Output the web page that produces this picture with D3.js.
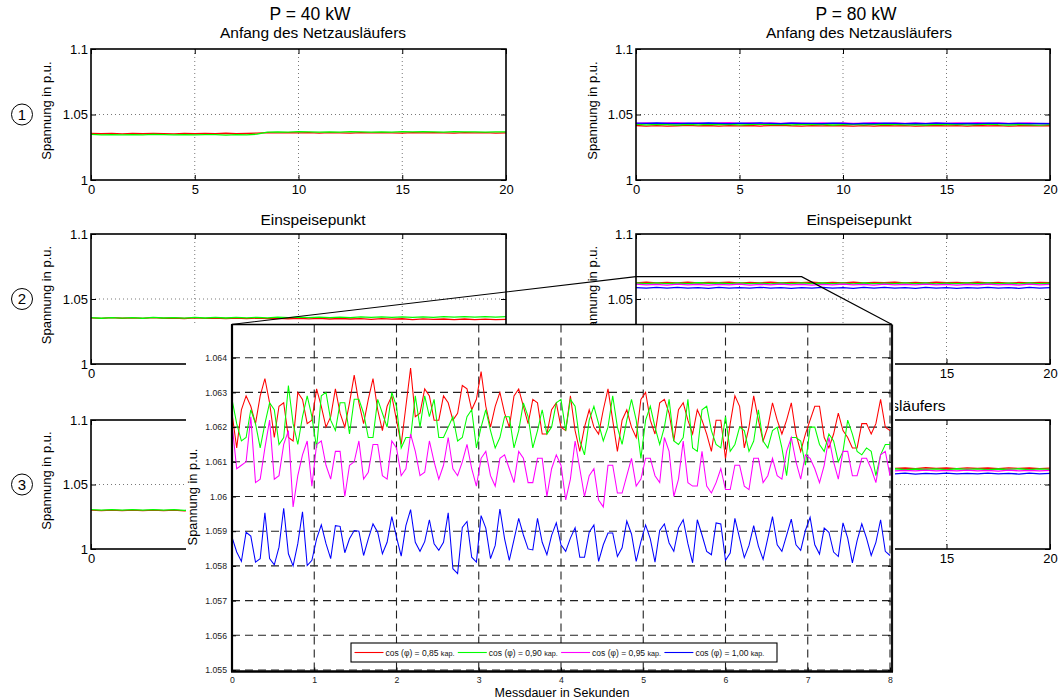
<!DOCTYPE html>
<html>
<head>
<meta charset="utf-8">
<script src="https://cdn.jsdelivr.net/npm/d3@7"></script>
<style>
  body { margin: 0; background: #fff; }
  svg { display: block; }
</style>
</head>
<body>
<svg id="chart" width="1064" height="699"></svg>
<script>
// ---------- overview panels: 20 s of voltage, sampled every 0.5 s ----------
const seriesNames = ["cos (φ) = 0,85 ", "cos (φ) = 0,90 ", "cos (φ) = 0,95 ", "cos (φ) = 1,00 "];
const seriesUnit = "kap.";
const seriesColors = ["#ff0000", "#00ff00", "#ff00ff", "#0000ff"];

const powerTitles = ["P = 40 kW", "P = 80 kW"];
const rowTitles = ["Anfang des Netzausläufers", "Einspeisepunkt", "Ende des Netzausläufers"];
const rowMarks = ["1", "2", "3"];
const bigXTicks = [0, 5, 10, 15, 20];
const bigYTicks = [1, 1.05, 1.1];

// P = 40 kW, Anfang des Netzausläufers
const a40Red = [1.0355,1.0353,1.0356,1.0352,1.0355,1.0353,1.0356,1.0354,1.0352,1.0355,1.0353,1.0356,1.0354,1.0357,1.0353,1.0355,1.0358,1.0361,1.0359,1.0362,1.0359,1.0361,1.0358,1.0362,1.0360,1.0358,1.0361,1.0359,1.0362,1.0360,1.0358,1.0361,1.0359,1.0362,1.0360,1.0358,1.0361,1.0359,1.0361,1.0358,1.0360];
const a40Green = [1.0348,1.0345,1.0347,1.0344,1.0347,1.0345,1.0348,1.0346,1.0344,1.0347,1.0345,1.0347,1.0346,1.0343,1.0346,1.0344,1.0350,1.0366,1.0368,1.0366,1.0369,1.0367,1.0365,1.0368,1.0366,1.0369,1.0367,1.0365,1.0368,1.0366,1.0369,1.0367,1.0370,1.0368,1.0366,1.0369,1.0367,1.0368,1.0366,1.0368,1.0367];

// P = 80 kW, Anfang des Netzausläufers
const a80Red = [1.0416,1.0412,1.0415,1.0411,1.0414,1.0417,1.0413,1.0416,1.0412,1.0415,1.0413,1.0416,1.0412,1.0415,1.0418,1.0414,1.0412,1.0415,1.0413,1.0416,1.0414,1.0411,1.0415,1.0412,1.0416,1.0413,1.0415,1.0412,1.0414,1.0416,1.0413,1.0415,1.0412,1.0416,1.0413,1.0415,1.0412,1.0414,1.0416,1.0413,1.0414];
const a80Green = [1.0424,1.0421,1.0425,1.0422,1.0420,1.0424,1.0421,1.0425,1.0422,1.0424,1.0421,1.0423,1.0426,1.0422,1.0424,1.0421,1.0425,1.0422,1.0424,1.0420,1.0423,1.0425,1.0421,1.0424,1.0422,1.0425,1.0421,1.0423,1.0420,1.0424,1.0422,1.0425,1.0421,1.0423,1.0426,1.0422,1.0420,1.0423,1.0421,1.0419,1.0422];
const a80Magenta = [1.0433,1.0436,1.0432,1.0435,1.0438,1.0433,1.0436,1.0432,1.0435,1.0437,1.0433,1.0436,1.0432,1.0435,1.0433,1.0436,1.0434,1.0432,1.0435,1.0433,1.0436,1.0432,1.0434,1.0437,1.0433,1.0435,1.0432,1.0436,1.0433,1.0435,1.0432,1.0436,1.0434,1.0437,1.0433,1.0435,1.0432,1.0434,1.0436,1.0431,1.0433];
const a80Blue = [1.0434,1.0432,1.0435,1.0433,1.0431,1.0434,1.0432,1.0435,1.0433,1.0430,1.0434,1.0432,1.0435,1.0433,1.0431,1.0434,1.0432,1.0433,1.0431,1.0434,1.0432,1.0429,1.0433,1.0431,1.0434,1.0432,1.0430,1.0433,1.0431,1.0434,1.0432,1.0430,1.0433,1.0431,1.0434,1.0432,1.0430,1.0433,1.0431,1.0432,1.0431];

// P = 40 kW, Einspeisepunkt
const e40Red = [1.0355,1.0351,1.0356,1.0352,1.0355,1.0351,1.0356,1.0352,1.0354,1.0350,1.0355,1.0351,1.0354,1.0350,1.0354,1.0349,1.0353,1.0349,1.0352,1.0348,1.0352,1.0347,1.0351,1.0346,1.0350,1.0346,1.0349,1.0344,1.0349,1.0345,1.0348,1.0342,1.0347,1.0343,1.0346,1.0341,1.0346,1.0342,1.0345,1.0341,1.0343];
const e40Green = [1.0356,1.0352,1.0357,1.0353,1.0357,1.0352,1.0358,1.0354,1.0357,1.0353,1.0358,1.0354,1.0359,1.0354,1.0358,1.0355,1.0359,1.0355,1.0360,1.0356,1.0360,1.0356,1.0361,1.0357,1.0361,1.0357,1.0362,1.0358,1.0362,1.0358,1.0363,1.0359,1.0363,1.0359,1.0364,1.0360,1.0364,1.0360,1.0365,1.0361,1.0364];

// P = 80 kW, Einspeisepunkt
const e80Red = [1.0624,1.0629,1.0623,1.0628,1.0624,1.0630,1.0623,1.0627,1.0625,1.0629,1.0622,1.0628,1.0624,1.0629,1.0623,1.0628,1.0625,1.0630,1.0623,1.0628,1.0624,1.0629,1.0623,1.0627,1.0625,1.0630,1.0624,1.0628,1.0623,1.0629,1.0625,1.0628,1.0623,1.0629,1.0624,1.0628,1.0622,1.0627,1.0624,1.0628,1.0625];
const e80Green = [1.0623,1.0618,1.0624,1.0619,1.0623,1.0618,1.0625,1.0620,1.0623,1.0618,1.0624,1.0619,1.0622,1.0617,1.0623,1.0619,1.0624,1.0618,1.0623,1.0619,1.0624,1.0617,1.0623,1.0618,1.0622,1.0619,1.0624,1.0618,1.0623,1.0617,1.0622,1.0619,1.0624,1.0618,1.0623,1.0619,1.0622,1.0617,1.0623,1.0618,1.0621];
const e80Magenta = [1.0614,1.0608,1.0613,1.0607,1.0614,1.0609,1.0613,1.0606,1.0612,1.0608,1.0614,1.0607,1.0613,1.0609,1.0615,1.0608,1.0613,1.0607,1.0612,1.0608,1.0614,1.0609,1.0613,1.0607,1.0614,1.0608,1.0613,1.0609,1.0615,1.0608,1.0612,1.0607,1.0613,1.0609,1.0614,1.0608,1.0613,1.0607,1.0614,1.0609,1.0612];
const e80Blue = [1.0588,1.0583,1.0589,1.0584,1.0590,1.0583,1.0588,1.0582,1.0589,1.0584,1.0588,1.0583,1.0590,1.0584,1.0587,1.0581,1.0588,1.0584,1.0589,1.0583,1.0588,1.0582,1.0589,1.0584,1.0590,1.0583,1.0587,1.0582,1.0589,1.0584,1.0588,1.0581,1.0587,1.0583,1.0589,1.0584,1.0588,1.0582,1.0589,1.0583,1.0587];

// P = 40 kW, Ende des Netzausläufers
const n40Red = [1.0301,1.0297,1.0302,1.0298,1.0301,1.0297,1.0302,1.0298,1.0301,1.0296,1.0302,1.0298,1.0301,1.0297,1.0302,1.0298,1.0300,1.0296,1.0301,1.0297,1.0302,1.0298,1.0301,1.0296,1.0300,1.0297,1.0301,1.0297,1.0300,1.0296,1.0301,1.0297,1.0300,1.0296,1.0301,1.0297,1.0300,1.0296,1.0300,1.0297,1.0299];
const n40Green = [1.0305,1.0301,1.0306,1.0302,1.0305,1.0301,1.0306,1.0302,1.0305,1.0300,1.0306,1.0302,1.0305,1.0301,1.0306,1.0302,1.0304,1.0300,1.0305,1.0301,1.0306,1.0302,1.0305,1.0300,1.0304,1.0301,1.0305,1.0301,1.0304,1.0300,1.0305,1.0301,1.0304,1.0300,1.0305,1.0301,1.0304,1.0300,1.0305,1.0301,1.0303];

// P = 80 kW, Ende des Netzausläufers
const n80Red = [1.0628,1.0623,1.0629,1.0624,1.0628,1.0622,1.0629,1.0625,1.0630,1.0623,1.0628,1.0624,1.0629,1.0623,1.0628,1.0625,1.0630,1.0624,1.0628,1.0623,1.0629,1.0624,1.0628,1.0622,1.0629,1.0625,1.0628,1.0623,1.0630,1.0624,1.0628,1.0623,1.0629,1.0624,1.0628,1.0622,1.0629,1.0624,1.0628,1.0623,1.0627];
const n80Green = [1.0617,1.0622,1.0616,1.0621,1.0617,1.0622,1.0616,1.0620,1.0617,1.0622,1.0615,1.0621,1.0617,1.0622,1.0616,1.0621,1.0618,1.0622,1.0616,1.0620,1.0617,1.0622,1.0616,1.0621,1.0617,1.0622,1.0615,1.0620,1.0617,1.0621,1.0616,1.0622,1.0617,1.0621,1.0616,1.0620,1.0617,1.0622,1.0616,1.0621,1.0618];
const n80Magenta = [1.0611,1.0605,1.0610,1.0606,1.0611,1.0604,1.0610,1.0606,1.0612,1.0605,1.0610,1.0606,1.0611,1.0605,1.0610,1.0604,1.0611,1.0606,1.0610,1.0605,1.0612,1.0606,1.0610,1.0604,1.0611,1.0605,1.0610,1.0606,1.0611,1.0605,1.0610,1.0606,1.0612,1.0605,1.0610,1.0604,1.0611,1.0606,1.0610,1.0605,1.0609];
const n80Blue = [1.0587,1.0582,1.0588,1.0583,1.0587,1.0581,1.0588,1.0583,1.0587,1.0582,1.0589,1.0583,1.0587,1.0582,1.0588,1.0583,1.0586,1.0581,1.0588,1.0583,1.0587,1.0582,1.0588,1.0582,1.0587,1.0583,1.0588,1.0581,1.0587,1.0582,1.0588,1.0583,1.0587,1.0582,1.0588,1.0583,1.0587,1.0581,1.0588,1.0582,1.0586];

// ---------- detail: first 8 s at the Einspeisepunkt, P = 80 kW (141 samples) ----------
const insetRed = [
  1.0624,1.0614,1.0625,1.0629,1.0626,1.0621,1.0629,1.0634,1.0627,1.0617,
  1.0626,1.0627,1.0617,1.0616,1.0630,1.0628,1.0621,1.0622,1.0631,1.0626,
  1.0620,1.0623,1.0631,1.0624,1.0620,1.0627,1.0635,1.0627,1.0621,1.0628,
  1.0634,1.0625,1.0619,1.0626,1.0629,1.0622,1.0615,1.0626,1.0637,1.0623,
  1.0624,1.0631,1.0629,1.0622,1.0622,1.0629,1.0627,1.0622,
  1.0624,1.0632,1.0631,1.0625,1.0628,1.0636,1.0626,1.0620,1.0626,1.0630,
  1.0624,1.0620,1.0629,1.0631,1.0626,1.0621,1.0628,1.0627,1.0618,1.0618,
  1.0625,1.0627,1.0620,1.0619,1.0629,1.0619,1.0613,1.0620,1.0625,1.0620,
  1.0618,1.0625,1.0631,1.0622,1.0613,1.0622,1.0625,1.0620,1.0617,1.0628,
  1.0630,1.0622,1.0618,1.0627,1.0628,
  1.0624,1.0616,1.0625,1.0627,1.0622,1.0618,1.0625,1.0622,1.0618,1.0613,
  1.0622,1.0622,1.0611,1.0621,1.0629,1.0626,1.0614,1.0620,1.0629,1.0622,
  1.0616,1.0620,1.0627,1.0622,1.0618,1.0622,1.0627,1.0618,1.0613,1.0618,
  1.0622,1.0626,1.0626,1.0617,1.0614,1.0618,1.0624,1.0619,1.0617,1.0614,
  1.0614,1.0621,1.0621,1.0618,1.0621,1.0628,1.0620,1.0619];
const insetGreen = [
  1.0628,1.0621,1.0616,1.0617,1.0625,1.0621,1.0614,1.0621,1.0627,1.0625,
  1.0615,1.0617,1.0632,1.0621,1.0615,1.0623,1.0629,1.0623,1.0614,1.0629,
  1.0630,1.0622,1.0619,1.0627,1.0627,1.0618,1.0628,1.0628,1.0624,1.0617,
  1.0617,1.0628,1.0624,1.0620,1.0630,1.0626,1.0614,1.0617,1.0617,1.0629,
  1.0620,1.0629,1.0623,1.0628,1.0617,1.0617,1.0620,1.0623,
  1.0616,1.0617,1.0623,1.0625,1.0614,1.0620,1.0625,1.0619,1.0614,1.0617,
  1.0623,1.0623,1.0614,1.0619,1.0627,1.0623,1.0614,1.0619,1.0625,1.0618,
  1.0620,1.0627,1.0628,1.0619,1.0628,1.0626,1.0616,1.0612,1.0622,1.0626,
  1.0621,1.0616,1.0620,1.0629,1.0620,1.0615,1.0622,1.0628,1.0622,1.0611,
  1.0622,1.0626,1.0620,1.0615,1.0620,
  1.0628,1.0616,1.0615,1.0617,1.0628,1.0614,1.0613,1.0625,1.0626,1.0619,
  1.0615,1.0614,1.0623,1.0613,1.0615,1.0620,1.0619,1.0613,1.0616,1.0625,
  1.0616,1.0614,1.0619,1.0620,1.0614,1.0606,1.0617,1.0617,1.0616,1.0609,
  1.0620,1.0620,1.0615,1.0613,1.0618,1.0616,1.0610,1.0613,1.0622,1.0618,
  1.0613,1.0612,1.0614,1.0613,1.0606,1.0612,1.0615,1.0615];
const insetMagenta = [
  1.0621,1.0608,1.0609,1.0610,1.0623,1.0604,1.0605,1.0614,1.0622,1.0605,
  1.0606,1.0615,1.0619,1.0597,1.0606,1.0612,1.0616,1.0603,1.0615,1.0616,
  1.0609,1.0605,1.0613,1.0613,1.0600,1.0609,1.0610,1.0616,1.0605,1.0607,
  1.0615,1.0615,1.0606,1.0605,1.0616,1.0614,1.0606,1.0608,1.0618,1.0613,
  1.0606,1.0607,1.0616,1.0610,1.0605,1.0609,1.0617,1.0608,
  1.0606,1.0610,1.0615,1.0608,1.0603,1.0611,1.0613,1.0606,1.0603,1.0611,
  1.0612,1.0608,1.0604,1.0613,1.0611,1.0604,1.0604,1.0611,1.0611,1.0600,
  1.0608,1.0612,1.0609,1.0599,1.0605,1.0616,1.0608,1.0600,1.0606,1.0608,
  1.0599,1.0597,1.0609,1.0609,1.0601,1.0601,1.0606,1.0611,1.0603,1.0605,
  1.0611,1.0611,1.0606,1.0604,1.0617,
  1.0613,1.0600,1.0605,1.0616,1.0604,1.0603,1.0603,1.0613,1.0603,1.0601,
  1.0604,1.0608,1.0602,1.0602,1.0609,1.0609,1.0603,1.0602,1.0611,1.0611,
  1.0604,1.0606,1.0611,1.0606,1.0605,1.0613,1.0617,1.0610,1.0605,1.0612,
  1.0611,1.0608,1.0604,1.0609,1.0617,1.0610,1.0605,1.0613,1.0613,1.0606,
  1.0606,1.0611,1.0611,1.0608,1.0604,1.0612,1.0613,1.0606];
const insetBlue = [
  1.05883,1.05840,1.05813,1.05897,1.05886,1.05811,1.05821,1.05953,1.05821,1.05803,
  1.05854,1.05966,1.05835,1.05800,1.05864,1.05956,1.05801,1.05816,1.05878,1.05918,
  1.05864,1.05821,1.05916,1.05914,1.05838,1.05878,1.05902,1.05900,1.05830,1.05878,
  1.05921,1.05897,1.05835,1.05868,1.05942,1.05883,1.05828,1.05916,1.05962,1.05868,
  1.05842,1.05870,1.05933,1.05864,1.05845,1.05868,1.05953,1.05792,
  1.05778,1.05911,1.05928,1.05825,1.05811,1.05945,1.05909,1.05821,1.05859,1.05964,
  1.05878,1.05816,1.05876,1.05937,1.05889,1.05849,1.05846,1.05937,1.05868,1.05832,
  1.05888,1.05924,1.05861,1.05842,1.05880,1.05910,1.05825,1.05825,1.05897,1.05918,
  1.05813,1.05861,1.05895,1.05895,1.05827,1.05852,1.05929,1.05892,1.05813,1.05870,
  1.05918,1.05878,1.05811,1.05902,1.05921,
  1.05866,1.05842,1.05909,1.05933,1.05864,1.05809,1.05933,1.05889,1.05842,1.05832,
  1.05924,1.05921,1.05816,1.05837,1.05937,1.05880,1.05824,1.05859,1.05916,1.05857,
  1.05819,1.05880,1.05942,1.05861,1.05842,1.05888,1.05935,1.05861,1.05845,1.05902,
  1.05940,1.05861,1.05834,1.05909,1.05897,1.05840,1.05827,1.05924,1.05880,1.05809,
  1.05873,1.05921,1.05880,1.05830,1.05868,1.05933,1.05842,1.05830];

const insetXTicks = [0, 1, 2, 3, 4, 5, 6, 7, 8];
const insetYTicks = [1.055, 1.056, 1.057, 1.058, 1.059, 1.06, 1.061, 1.062, 1.063, 1.064];
const zoomSpan = [0, 8];       // seconds shown in the detail view
const zoomTopValue = 1.0672;   // upper edge of the marked window

// ---------- drawing ----------
const FONT = '"Liberation Sans", Arial, Helvetica, sans-serif';
const svg = d3.select("#chart").style("font-family", FONT);

const bigTime = d3.range(a40Red.length).map(i => i * 0.5);
const insetTime = d3.range(insetRed.length).map(i => i * 8 / (insetRed.length - 1));

const cols = [
  { x0: 91, x1: 506, labelX: 47, titleX: 313 },
  { x0: 636, x1: 1050, labelX: 593, titleX: 859 }
];
const rows = [
  { y0: 49, y1: 180, titleY: 38 },
  { y0: 234, y1: 364, titleY: 225 },
  { y0: 420, y1: 549, titleY: 411 }
];

const panels = [
  { row: 0, col: 0, series: [a40Red, a40Green] },
  { row: 0, col: 1, series: [a80Red, a80Green, a80Magenta, a80Blue] },
  { row: 1, col: 0, series: [e40Red, e40Green] },
  { row: 1, col: 1, series: [e80Red, e80Green, e80Magenta, e80Blue] },
  { row: 2, col: 0, series: [n40Red, n40Green] },
  { row: 2, col: 1, series: [n80Red, n80Green, n80Magenta, n80Blue] }
];

function styleAxis(g, size) {
  g.attr("font-family", FONT).attr("font-size", size);
  g.select(".domain").remove();
  g.selectAll(".tick line").attr("stroke", "#000").attr("stroke-width", 1);
  g.selectAll(".tick text").attr("fill", "#000");
}

const scalesByPanel = {};

panels.forEach(p => {
  const c = cols[p.col], r = rows[p.row];
  const x = d3.scaleLinear().domain([0, 20]).range([c.x0, c.x1]);
  const y = d3.scaleLinear().domain([1, 1.1]).range([r.y1, r.y0]);
  scalesByPanel[p.row + "-" + p.col] = { x, y };
  const g = svg.append("g");

  // dotted grid
  g.selectAll(".vgrid").data(bigXTicks.slice(1, -1)).join("line")
    .attr("x1", d => x(d)).attr("x2", d => x(d))
    .attr("y1", r.y0).attr("y2", r.y1)
    .attr("stroke", "#555").attr("stroke-width", 0.8).attr("stroke-dasharray", "1,3");
  g.selectAll(".hgrid").data(bigYTicks.slice(1, -1)).join("line")
    .attr("x1", c.x0).attr("x2", c.x1)
    .attr("y1", d => y(d)).attr("y2", d => y(d))
    .attr("stroke", "#555").attr("stroke-width", 0.8).attr("stroke-dasharray", "1,3");

  // measured voltage curves
  const line = d3.line().x((d, i) => x(bigTime[i])).y(d => y(d));
  p.series.forEach((vals, k) => {
    g.append("path").attr("d", line(vals))
      .attr("fill", "none").attr("stroke", seriesColors[k])
      .attr("stroke-width", 1.3).attr("stroke-linejoin", "round");
  });

  // axes with inward ticks on all four sides
  g.append("g").attr("transform", `translate(0,${r.y1})`)
    .call(d3.axisBottom(x).tickValues(bigXTicks).tickSizeInner(-5).tickSizeOuter(0)
      .tickPadding(5).tickFormat(d3.format("d")))
    .call(a => styleAxis(a, 13));
  g.append("g").attr("transform", `translate(0,${r.y0})`)
    .call(d3.axisTop(x).tickValues(bigXTicks).tickSizeInner(-5).tickSizeOuter(0).tickFormat(""))
    .call(a => styleAxis(a, 13));
  g.append("g").attr("transform", `translate(${c.x0},0)`)
    .call(d3.axisLeft(y).tickValues(bigYTicks).tickSizeInner(-5).tickSizeOuter(0)
      .tickPadding(3).tickFormat(d => String(d)))
    .call(a => styleAxis(a, 13));
  g.append("g").attr("transform", `translate(${c.x1},0)`)
    .call(d3.axisRight(y).tickValues(bigYTicks).tickSizeInner(-5).tickSizeOuter(0).tickFormat(""))
    .call(a => styleAxis(a, 13));

  g.append("rect").attr("x", c.x0).attr("y", r.y0)
    .attr("width", c.x1 - c.x0).attr("height", r.y1 - r.y0)
    .attr("fill", "none").attr("stroke", "#000").attr("stroke-width", 1.6);

  // y label
  const cy = (r.y0 + r.y1) / 2 - 4;
  g.append("text").attr("transform", `translate(${c.labelX + 4},${cy}) rotate(-90)`)
    .attr("text-anchor", "middle").attr("font-size", 13).text("Spannung in p.u.");

  // titles
  g.append("text").attr("x", c.titleX).attr("y", r.titleY)
    .attr("text-anchor", "middle").attr("font-size", 15.5).text(rowTitles[p.row]);
  if (p.row === 0) {
    g.append("text").attr("x", c.titleX - 3).attr("y", 20)
      .attr("text-anchor", "middle").attr("font-size", 17.5).text(powerTitles[p.col]);
  }

  // row marker circles
  if (p.col === 0) {
    const my = y(1.05);
    g.append("circle").attr("cx", 22).attr("cy", my).attr("r", 10.5)
      .attr("fill", "none").attr("stroke", "#000").attr("stroke-width", 1);
    g.append("text").attr("x", 22).attr("y", my + 5.2)
      .attr("text-anchor", "middle").attr("font-size", 15).text(rowMarks[p.row]);
  }
});

// ---------- detail view ----------
const ix = d3.scaleLinear().domain([0, 8]).range([232, 890]);
const iy = d3.scaleLinear().domain([1.055, 1.065]).range([670, 323]);
const fL = ix(0), fR = ix(8) + 2, fT = iy(1.065) + 1.5, fB = iy(1.055) + 1.5;

// white backing that hides the overview panels beneath
svg.append("rect").attr("x", 186).attr("y", fT).attr("width", 709).attr("height", 699 - fT)
  .attr("fill", "#fff");

const ig = svg.append("g");

// dashed grid
ig.selectAll(".ivg").data(insetXTicks).join("line")
  .attr("x1", d => ix(d)).attr("x2", d => ix(d)).attr("y1", fT).attr("y2", fB)
  .attr("stroke", "#222").attr("stroke-width", 1.1).attr("stroke-dasharray", "8,5");
ig.selectAll(".ihg").data(insetYTicks).join("line")
  .attr("x1", fL).attr("x2", fR).attr("y1", d => iy(d)).attr("y2", d => iy(d))
  .attr("stroke", "#222").attr("stroke-width", 1.1).attr("stroke-dasharray", "8,5");

// curves
const iline = d3.line().x((d, i) => ix(insetTime[i])).y(d => iy(d));
[insetRed, insetGreen, insetMagenta, insetBlue].forEach((vals, k) => {
  ig.append("path").attr("d", iline(vals)).attr("fill", "none")
    .attr("stroke", seriesColors[k]).attr("stroke-width", 1.05).attr("stroke-linejoin", "miter");
});

// axes
ig.append("g").attr("transform", `translate(0,${fB})`)
  .call(d3.axisBottom(ix).tickValues(insetXTicks).tickSizeInner(-4).tickSizeOuter(0)
    .tickPadding(5).tickFormat(d3.format("d")))
  .call(a => styleAxis(a, 8.7));
ig.append("g").attr("transform", `translate(${fL},0)`)
  .call(d3.axisLeft(iy).tickValues(insetYTicks).tickSizeInner(-4).tickSizeOuter(0)
    .tickPadding(5).tickFormat(d => String(d)))
  .call(a => styleAxis(a, 8.7));
ig.selectAll(".tick text").attr("fill", "#222");
ig.append("g").attr("transform", `translate(${fR},0)`)
  .call(d3.axisRight(iy).tickValues(insetYTicks).tickSizeInner(-4).tickSizeOuter(0).tickFormat(""))
  .call(a => styleAxis(a, 8.7));

// frame
ig.append("line").attr("x1", fL).attr("x2", fR).attr("y1", fT).attr("y2", fT)
  .attr("stroke", "#000").attr("stroke-width", 1.5);
ig.append("line").attr("x1", fL).attr("x2", fL).attr("y1", fT).attr("y2", fB)
  .attr("stroke", "#000").attr("stroke-width", 2.2);
ig.append("line").attr("x1", fR).attr("x2", fR).attr("y1", fT).attr("y2", fB)
  .attr("stroke", "#111").attr("stroke-width", 2.2);
ig.append("line").attr("x1", fL - 1).attr("x2", fR + 1).attr("y1", fB).attr("y2", fB)
  .attr("stroke", "#000").attr("stroke-width", 2.4);

// axis labels
ig.append("text").attr("transform", `translate(${197},${497}) rotate(-90)`)
  .attr("text-anchor", "middle").attr("font-size", 12.8).text("Spannung in p.u.");
ig.append("text").attr("x", 562).attr("y", 697)
  .attr("text-anchor", "middle").attr("font-size", 12.5).text("Messdauer in Sekunden");

// legend
const lg = ig.append("g");
const lgX = 351, lgY = 643, lgW = 426, lgH = 19, itemW = 103.3;
lg.append("rect").attr("x", lgX).attr("y", lgY).attr("width", lgW).attr("height", lgH)
  .attr("fill", "#fff").attr("stroke", "#000").attr("stroke-width", 1.1);
seriesNames.forEach((name, k) => {
  const x0 = lgX + 3.5 + k * itemW;
  lg.append("line").attr("x1", x0).attr("x2", x0 + 29).attr("y1", lgY + 9.5).attr("y2", lgY + 9.5)
    .attr("stroke", seriesColors[k]).attr("stroke-width", 1.1);
  const t = lg.append("text").attr("x", x0 + 31).attr("y", lgY + 12.8)
    .attr("font-size", 8.5).attr("fill", "#111");
  t.append("tspan").text(name);
  t.append("tspan").attr("font-size", 7.2).text(seriesUnit);
});

// marked window in the overview and its connection to the detail view
const src = scalesByPanel["1-1"];
const zy = src.y(zoomTopValue);
const connector = [
  [fL - 1, fT],
  [src.x(zoomSpan[0]), zy],
  [src.x(zoomSpan[1]), zy],
  [fR, fT]
];
svg.append("path").attr("d", d3.line()(connector))
  .attr("fill", "none").attr("stroke", "#000").attr("stroke-width", 1.1);
</script>
</body>
</html>
